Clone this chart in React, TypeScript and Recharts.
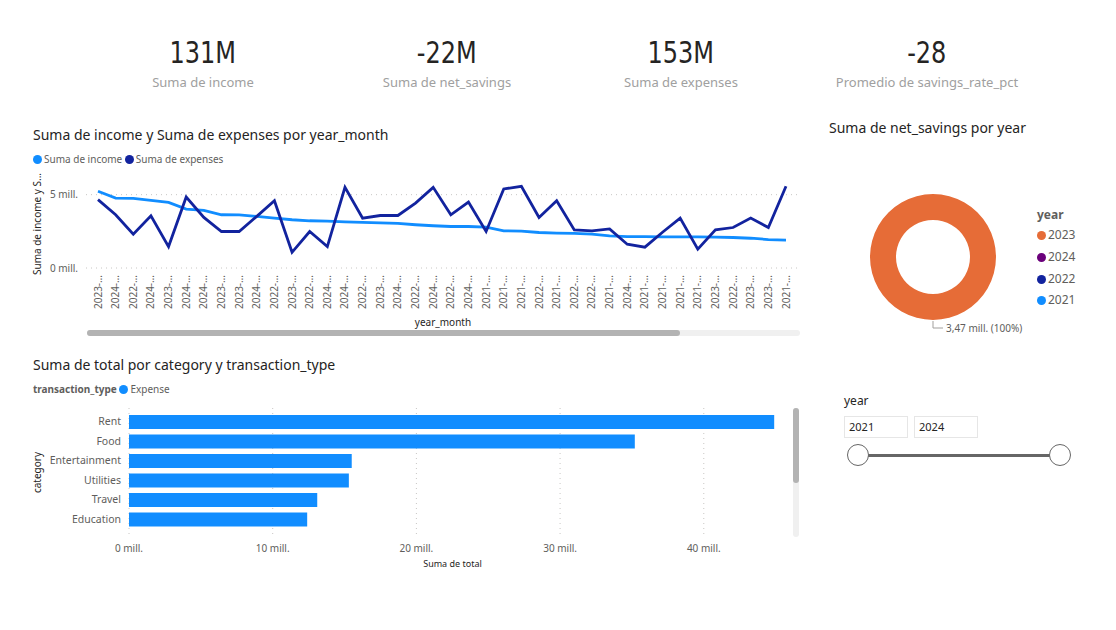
import React from 'react';
import {
  LineChart, Line, XAxis, YAxis, CartesianGrid,
  BarChart, Bar, PieChart, Pie, Cell,
} from 'recharts';

// year_month axis (truncated labels as shown in the visual)
const yearMonthLabels = [
  '2023-…', '2024-…', '2022-…', '2024-…', '2023-…', '2024-…', '2024-…', '2023-…', '2023-…', '2024-…',
  '2022-…', '2023-…', '2022-…', '2024-…', '2024-…', '2022-…', '2023-…', '2024-…', '2022-…', '2024-…',
  '2022-…', '2024-…', '2021-…', '2021-…', '2021-…', '2022-…', '2021-…', '2022-…', '2022-…', '2021-…',
  '2024-…', '2021-…', '2021-…', '2021-…', '2021-…', '2023-…', '2022-…', '2023-…', '2023-…', '2021-…',
];
// millions
const incomeM = [
  5.23, 4.77, 4.75, 4.61, 4.47, 4.02, 3.93, 3.63, 3.62, 3.52,
  3.40, 3.29, 3.22, 3.20, 3.15, 3.11, 3.08, 3.04, 2.95, 2.88,
  2.83, 2.83, 2.79, 2.53, 2.52, 2.42, 2.38, 2.36, 2.31, 2.19,
  2.14, 2.14, 2.12, 2.12, 2.12, 2.10, 2.08, 2.03, 1.94, 1.90,
];
const expensesM = [
  4.66, 3.63, 2.31, 3.56, 1.46, 4.84, 3.45, 2.49, 2.49, 3.52,
  4.59, 1.07, 2.49, 1.46, 5.50, 3.40, 3.58, 3.58, 4.43, 5.50,
  3.63, 4.50, 2.49, 5.39, 5.57, 3.45, 4.59, 2.60, 2.53, 2.67,
  1.62, 1.42, 2.44, 3.40, 1.28, 2.60, 2.76, 3.40, 2.76, 5.57,
];
const lineTicks = [0, 5];

// bars: Suma de total por category (millions)
const categories = ['Rent', 'Food', 'Entertainment', 'Utilities', 'Travel', 'Education'];
const totalsM = [44.9, 35.2, 15.5, 15.3, 13.1, 12.4];
const barTicks = [0, 10, 20, 30, 40];

// donut: net_savings por year
const donutYears = ['2023'];
const donutValues = [3470000];
const legendYears = ['2023', '2024', '2022', '2021'];
const yearColors: Record<string, string> = {
  '2023': '#E66C37', '2024': '#6B007B', '2022': '#12239E', '2021': '#118DFF',
};

// cards
const kpiValues = ['131M', '-22M', '153M', '-28'];
const kpiLabels = ['Suma de income', 'Suma de net_savings', 'Suma de expenses', 'Promedio de savings_rate_pct'];
const kpiCenters = [203, 447, 681, 927];

const sliderRange = ['2021', '2024'];

const FONT = "'Segoe UI', 'Noto Sans', sans-serif";
const TITLE = '#252423';
const GRAY = '#605E5C';
const INCOME = '#118DFF';
const EXPENSES = '#12239E';

const lineData = yearMonthLabels.map((_, i) => ({
  idx: i,
  income: incomeM[i],
  expenses: expensesM[i],
}));
const barData = categories.map((c, i) => ({ category: c, total: totalsM[i] }));
const donutData = donutYears.map((y, i) => ({ year: y, value: donutValues[i] }));

const YearMonthTick = (props: any) => {
  const { x, y, payload } = props;
  return (
    <text
      x={x} y={y - 1} transform={`rotate(-90, ${x}, ${y - 1})`}
      textAnchor="end" dy="0.35em" fontSize={10} fill={GRAY} fontFamily={FONT}
    >
      {yearMonthLabels[payload.value]}
    </text>
  );
};

const fmtMill = (v: number) => `${v.toFixed(2).replace('.', ',')} mill.`;

const renderDonutLabel = (props: any) => {
  const { cx, cy, outerRadius, value, percent } = props;
  const x0 = cx;
  const y0 = cy + outerRadius + 1;
  return (
    <g>
      <polyline
        points={`${x0},${y0} ${x0},${y0 + 7} ${x0 + 10},${y0 + 7}`}
        fill="none" stroke="#A19F9D" strokeWidth={1}
      />
      <text x={x0 + 13} y={y0 + 7} dy="0.35em" fontSize={10} fill={GRAY} fontFamily={FONT}>
        {fmtMill(value / 1e6)} ({Math.round(percent * 100)}%)
      </text>
    </g>
  );
};

const Dot = ({ color }: { color: string }) => (
  <span style={{
    display: 'inline-block', width: 9, height: 9, borderRadius: '50%',
    background: color, marginRight: 2, verticalAlign: -1,
  }} />
);

const abs = (left: number, top: number, extra: React.CSSProperties = {}): React.CSSProperties => ({
  position: 'absolute', left, top, ...extra,
});

export default function App() {
  return (
    <div style={{
      position: 'absolute', left: 0, top: 0, width: 1116, height: 630,
      background: '#fff', fontFamily: FONT, color: TITLE, overflow: 'hidden',
    }}>
      {/* KPI cards */}
      {kpiValues.map((v, i) => (
        <div key={v} style={abs(kpiCenters[i] - 110, 32, { width: 220, textAlign: 'center' })}>
          <div style={{ height: 44 }}>
            <span style={{
              display: 'inline-block', transform: 'scaleX(0.86)',
              fontFamily: "'Liberation Sans Narrow', 'DejaVu Sans Condensed', sans-serif",
              fontSize: 31, lineHeight: '40px', color: TITLE,
            }}>{v}</span>
          </div>
          <div style={{ fontSize: 13, lineHeight: '18px', color: '#A0A0A0', marginTop: -3 }}>{kpiLabels[i]}</div>
        </div>
      ))}

      {/* line chart */}
      <div style={abs(33, 125, { fontSize: 14, lineHeight: '20px' })}>
        Suma de income y Suma de expenses por year_month
      </div>
      <div style={abs(33, 152, { fontSize: 10, lineHeight: '14px', color: GRAY, whiteSpace: 'nowrap' })}>
        <Dot color={INCOME} />Suma de income <Dot color={EXPENSES} />Suma de expenses
      </div>
      <div style={abs(25, 170)}>
        <LineChart width={780} height={165} data={lineData} margin={{ top: 10, right: 5, bottom: 7, left: 0 }}>
          <CartesianGrid vertical={false} horizontalValues={lineTicks} stroke="#C8C6C4" strokeDasharray="1 4" />
          <XAxis
            dataKey="idx" type="category" interval={0} tick={YearMonthTick}
            tickLine={false} axisLine={false} height={60} padding={{ left: 12, right: 14 }}
            label={{ value: 'year_month', position: 'insideBottom', offset: 2, fontSize: 10, fill: TITLE }}
          />
          <YAxis
            domain={[0, 6]} ticks={lineTicks} width={61} axisLine={false} tickLine={false}
            tickFormatter={(v: number) => `${v} mill.`} tick={{ fontSize: 10, fill: GRAY }}
            label={{
              value: 'Suma de income y S...', angle: -90, position: 'insideLeft', offset: 12,
              style: { textAnchor: 'middle', fontSize: 10, fill: TITLE },
            }}
          />
          <Line dataKey="income" stroke={INCOME} strokeWidth={2.8} dot={false} isAnimationActive={false} />
          <Line dataKey="expenses" stroke={EXPENSES} strokeWidth={2.8} dot={false} isAnimationActive={false} />
        </LineChart>
      </div>
      <div style={abs(87, 330, { width: 713, height: 6, borderRadius: 3, background: '#F0F0F0' })} />
      <div style={abs(87, 330, { width: 593, height: 6, borderRadius: 3, background: '#B3B3B3' })} />

      {/* donut */}
      <div style={abs(829, 118, { fontSize: 14, lineHeight: '20px' })}>Suma de net_savings por year</div>
      <div style={abs(830, 180)}>
        <PieChart width={210} height={160}>
          <Pie
            data={donutData} dataKey="value" nameKey="year" cx={98} cy={72}
            innerRadius={37} outerRadius={63} startAngle={90} endAngle={-270}
            stroke="none" label={renderDonutLabel} labelLine={false} isAnimationActive={false}
          >
            {donutData.map((d) => <Cell key={d.year} fill={yearColors[d.year]} />)}
          </Pie>
        </PieChart>
      </div>
      <div style={abs(1037, 208, { fontSize: 12, lineHeight: '14px' })}>
        <div style={{ fontWeight: 700, color: GRAY, marginBottom: 6 }}>year</div>
        {legendYears.map((y) => (
          <div key={y} style={{ color: GRAY, height: 21.8, whiteSpace: 'nowrap' }}>
            <Dot color={yearColors[y]} />{y}
          </div>
        ))}
      </div>

      {/* bar chart */}
      <div style={abs(33, 355, { fontSize: 14, lineHeight: '20px' })}>
        Suma de total por category y transaction_type
      </div>
      <div style={abs(33, 382, { fontSize: 10, lineHeight: '14px', color: GRAY, whiteSpace: 'nowrap' })}>
        <b>transaction_type</b> <Dot color={INCOME} />Expense
      </div>
      <div style={abs(25, 400)}>
        <BarChart
          width={775} height={170} data={barData} layout="vertical"
          margin={{ top: 8, right: 10, bottom: 3, left: 0 }}
        >
          <CartesianGrid horizontal={false} verticalValues={barTicks} stroke="#C8C6C4" strokeDasharray="1 4" />
          <XAxis
            type="number" domain={[0, 46]} ticks={barTicks} axisLine={false} tickLine={false}
            tickFormatter={(v: number) => `${v} mill.`} tick={{ fontSize: 10, fill: GRAY }} height={30}
            label={{ value: 'Suma de total', position: 'insideBottom', offset: 0, fontSize: 9, fill: TITLE, dx: -7 }}
          />
          <YAxis
            type="category" dataKey="category" width={104} axisLine={false} tickLine={false}
            interval={0} tick={{ fontSize: 10.5, fill: GRAY }} padding={{ top: 4, bottom: 8 }}
            label={{
              value: 'category', angle: -90, position: 'insideLeft', offset: 12,
              style: { textAnchor: 'middle', fontSize: 10, fill: TITLE },
            }}
          />
          <Bar dataKey="total" fill={INCOME} barSize={14} isAnimationActive={false} />
        </BarChart>
      </div>
      <div style={abs(793, 408, { width: 6, height: 129, borderRadius: 3, background: '#F0F0F0' })} />
      <div style={abs(793, 408, { width: 6, height: 75, borderRadius: 3, background: '#B3B3B3' })} />

      {/* year slicer */}
      <div style={abs(844, 393, { fontSize: 12, lineHeight: '16px' })}>year</div>
      {sliderRange.map((y, i) => (
        <div key={y} style={abs(844 + i * 70, 416, {
          width: 58, height: 20, border: '1px solid #E6E6E6', fontSize: 11,
          lineHeight: '20px', paddingLeft: 4, boxSizing: 'content-box',
        })}>{y}</div>
      ))}
      <div style={abs(858, 454, { width: 202, height: 3, background: '#666' })} />
      {[857.5, 1059.5].map((cx) => (
        <div key={cx} style={abs(cx - 11, 444, {
          width: 20, height: 20, borderRadius: '50%', border: '1.5px solid #666', background: '#fff',
        })} />
      ))}
    </div>
  );
}
